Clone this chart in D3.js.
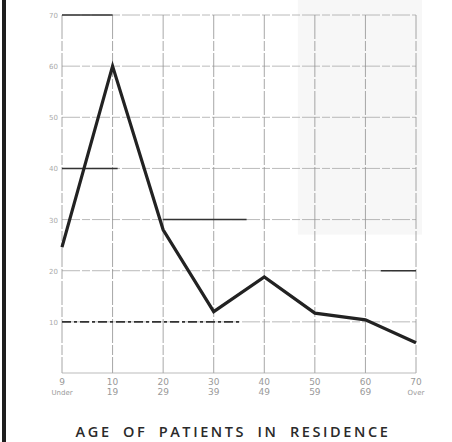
<!DOCTYPE html>
<html>
<head>
<meta charset="utf-8">
<script src="https://cdn.jsdelivr.net/npm/d3@7"></script>
<style>
  body { margin: 0; background: #fff; }
  svg { display: block; }
</style>
</head>
<body>
<svg id="canvas" width="452" height="442"></svg>
<script>
const ageGroups = ['0-9', '10-19', '20-29', '30-39', '40-49', '50-59', '60-69', '70+'];
const ageTop = ['9', '10', '20', '30', '40', '50', '60', '70'];
const ageBottom = ['Under', '19', '29', '39', '49', '59', '69', 'Over'];
const percentPatients = [24.6, 60, 28, 12, 18.8, 11.7, 10.4, 5.9];
const yTicks = [10, 20, 30, 40, 50, 60, 70];

// darker ruled pieces on the old grid paper: value, start / end in category steps
const ruleValues = [70, 40, 30, 10, 20];
const ruleFrom = [0, 0, 2, 0, 6.3];
const ruleTo = [1, 1.1, 3.65, 3.5, 7];

const svg = d3.select('#canvas');
const x = d3.scalePoint().domain(ageGroups).range([62, 416]);
const y = d3.scaleLinear().domain([0, 70]).range([373, 15]);
const step = x.step();

// shaded patch at top right
svg.append('rect')
  .attr('x', x('50-59') - 17).attr('y', 0)
  .attr('width', x('70+') - x('50-59') + 23).attr('height', y(30) + 15)
  .attr('fill', '#f7f7f7');

// left binding bar
svg.append('rect').attr('x', 2).attr('y', 0).attr('width', 4).attr('height', 442).attr('fill', '#1e1e1e');

const grid = svg.append('g');
grid.selectAll('line.h')
  .data(yTicks)
  .enter().append('line')
  .attr('class', 'h')
  .attr('x1', x('0-9')).attr('x2', x('70+'))
  .attr('y1', d => y(d)).attr('y2', d => y(d))
  .attr('stroke', '#a8a8a8').attr('stroke-width', 0.8)
  .attr('stroke-dasharray', '18,2,8,2');

grid.selectAll('line.v')
  .data(ageGroups)
  .enter().append('line')
  .attr('class', 'v')
  .attr('x1', d => x(d)).attr('x2', d => x(d))
  .attr('y1', y(70)).attr('y2', y(0))
  .attr('stroke', '#909090').attr('stroke-width', 0.8)
  .attr('stroke-dasharray', '24,2,10,2');

// baseline
grid.append('line')
  .attr('x1', x('0-9')).attr('x2', x('70+'))
  .attr('y1', y(0)).attr('y2', y(0))
  .attr('stroke', '#aaa').attr('stroke-width', 0.8);

grid.selectAll('line.rule')
  .data(ruleValues)
  .enter().append('line')
  .attr('class', 'rule')
  .attr('x1', (d, i) => x('0-9') + ruleFrom[i] * step)
  .attr('x2', (d, i) => x('0-9') + ruleTo[i] * step)
  .attr('y1', d => y(d)).attr('y2', d => y(d))
  .attr('stroke', '#333').attr('stroke-width', 1.6)
  .attr('stroke-dasharray', d => d === 10 ? '9,3,3,3' : null);

// y tick labels
svg.append('g').selectAll('text')
  .data(yTicks)
  .enter().append('text')
  .attr('x', 58).attr('y', d => y(d) + 3)
  .attr('text-anchor', 'end')
  .attr('font-family', 'DejaVu Sans, sans-serif')
  .attr('font-size', 7)
  .attr('fill', '#aaa')
  .text(d => d);

// x tick labels, two rows
const xLabels = svg.append('g')
  .attr('font-family', 'DejaVu Sans, sans-serif')
  .attr('font-size', 9)
  .attr('fill', '#999')
  .attr('text-anchor', 'middle');
xLabels.selectAll('text.top')
  .data(ageGroups)
  .enter().append('text')
  .attr('class', 'top')
  .attr('x', d => x(d)).attr('y', 385)
  .text((d, i) => ageTop[i]);
xLabels.selectAll('text.bottom')
  .data(ageGroups)
  .enter().append('text')
  .attr('class', 'bottom')
  .attr('x', d => x(d)).attr('y', 395)
  .attr('font-size', (d, i) => ageBottom[i].length > 2 ? 7 : 9)
  .text((d, i) => ageBottom[i]);

// data line
const line = d3.line()
  .x((d, i) => x(ageGroups[i]))
  .y(d => y(d));
svg.append('path')
  .datum(percentPatients)
  .attr('d', line)
  .attr('fill', 'none')
  .attr('stroke', '#222')
  .attr('stroke-width', 3.2)
  .attr('stroke-linejoin', 'miter');

// title
svg.append('text')
  .attr('x', 233).attr('y', 437)
  .attr('text-anchor', 'middle')
  .attr('font-family', 'Open Sans, sans-serif')
  .attr('font-weight', 600)
  .attr('font-size', 14.5)
  .attr('letter-spacing', 2.6)
  .attr('word-spacing', 5)
  .attr('fill', '#2a2a2a')
  .text('AGE OF PATIENTS IN RESIDENCE');
</script>
</body>
</html>
